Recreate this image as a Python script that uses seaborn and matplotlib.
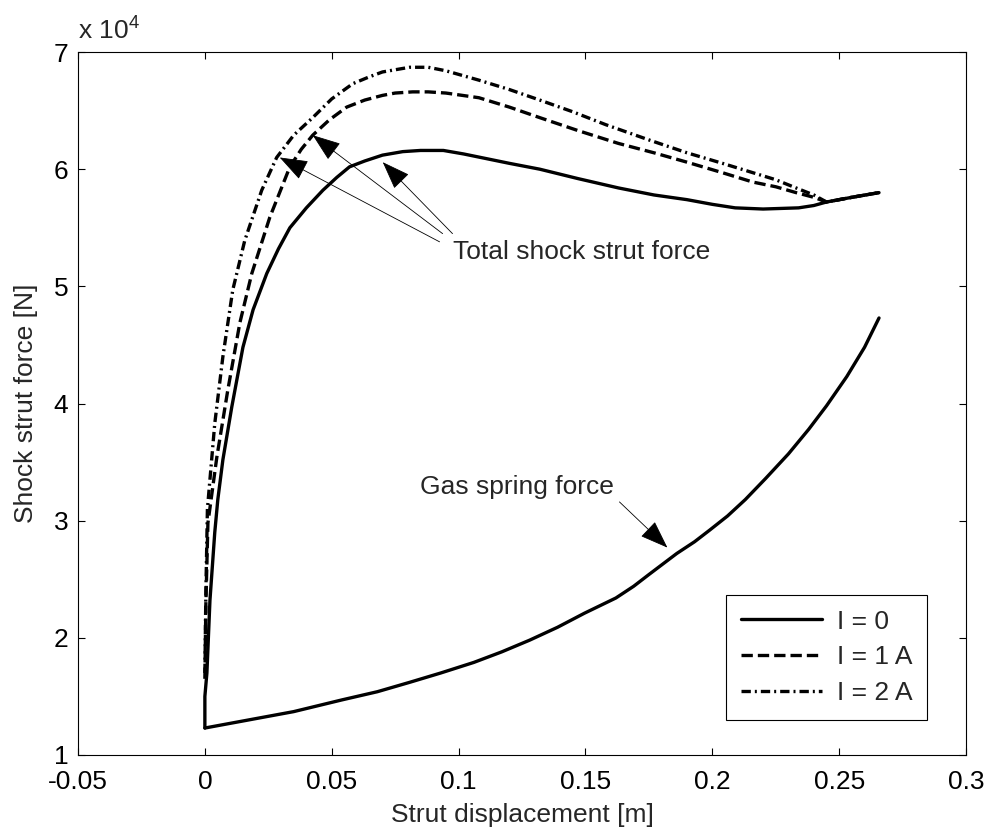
import numpy as np
import pandas as pd
import matplotlib
matplotlib.use("Agg")
import matplotlib.pyplot as plt
import seaborn as sns

# ---------------- data (force in N, displacement in m) ----------------
gas_x = [0, 0.01, 0.02, 0.035, 0.054, 0.068, 0.0807, 0.093, 0.106, 0.117, 0.128, 0.139,
         0.1496, 0.162, 0.169, 0.175, 0.186, 0.193, 0.199, 0.206, 0.213, 0.221, 0.23,
         0.238, 0.245, 0.253, 0.26, 0.2657]
gas_y = [1.23e4, 1.27e4, 1.31e4, 1.37e4, 1.47e4, 1.54e4, 1.62e4, 1.70e4, 1.79e4, 1.88e4,
         1.98e4, 2.09e4, 2.21e4, 2.34e4, 2.44e4, 2.54e4, 2.72e4, 2.82e4, 2.92e4, 3.04e4,
         3.18e4, 3.36e4, 3.57e4, 3.78e4, 3.98e4, 4.23e4, 4.48e4, 4.73e4]

i0_x = [0, 0, 0.0008, 0.002, 0.0039, 0.0051, 0.0071, 0.0106, 0.015, 0.019, 0.0244, 0.029,
        0.0335, 0.04, 0.0465, 0.052, 0.057, 0.063, 0.07, 0.078, 0.085, 0.094, 0.102, 0.111,
        0.12, 0.132, 0.147, 0.163, 0.177, 0.19, 0.2, 0.209, 0.22, 0.234, 0.24, 0.245, 0.255,
        0.2657]
i0_y = [1.23e4, 1.5e4, 1.7e4, 2.32e4, 2.9e4, 3.18e4, 3.52e4, 3.97e4, 4.48e4, 4.8e4, 5.11e4,
        5.32e4, 5.5e4, 5.67e4, 5.82e4, 5.93e4, 6.02e4, 6.07e4, 6.12e4, 6.15e4, 6.16e4, 6.16e4,
        6.13e4, 6.09e4, 6.05e4, 6.0e4, 5.92e4, 5.84e4, 5.78e4, 5.74e4, 5.7e4, 5.67e4, 5.66e4,
        5.67e4, 5.69e4, 5.72e4, 5.76e4, 5.8e4]

i1_x = [0, 0.0004, 0.0012, 0.0047, 0.009, 0.0138, 0.0185, 0.0256, 0.0335, 0.038, 0.0425,
        0.049, 0.0559, 0.063, 0.07, 0.075, 0.0819, 0.088, 0.095, 0.108, 0.12, 0.132, 0.147,
        0.163, 0.177, 0.19, 0.204, 0.216, 0.225, 0.233, 0.24, 0.245, 0.255, 0.2657]
i1_y = [1.65e4, 2.3e4, 2.98e4, 3.54e4, 4.11e4, 4.69e4, 5.11e4, 5.59e4, 6.02e4, 6.17e4, 6.29e4,
        6.42e4, 6.53e4, 6.59e4, 6.63e4, 6.65e4, 6.66e4, 6.66e4, 6.65e4, 6.61e4, 6.53e4, 6.44e4,
        6.33e4, 6.22e4, 6.14e4, 6.06e4, 5.97e4, 5.89e4, 5.85e4, 5.8e4, 5.76e4, 5.72e4, 5.76e4,
        5.8e4]

i2_x = [0, 0.0004, 0.0010, 0.0039, 0.0071, 0.011, 0.0157, 0.0224, 0.0283, 0.035, 0.0425,
        0.05, 0.0583, 0.065, 0.07, 0.0807, 0.088, 0.095, 0.108, 0.12, 0.132, 0.145, 0.158,
        0.175, 0.19, 0.204, 0.216, 0.225, 0.233, 0.24, 0.245, 0.255, 0.2657]
i2_y = [1.7e4, 2.4e4, 3.1e4, 3.83e4, 4.4e4, 4.97e4, 5.39e4, 5.82e4, 6.1e4, 6.29e4, 6.44e4,
        6.6e4, 6.73e4, 6.79e4, 6.83e4, 6.87e4, 6.87e4, 6.84e4, 6.76e4, 6.68e4, 6.59e4, 6.49e4,
        6.38e4, 6.25e4, 6.14e4, 6.05e4, 5.97e4, 5.91e4, 5.84e4, 5.78e4, 5.72e4, 5.76e4, 5.8e4]

legend_labels = ["I = 0", "I = 1 A", "I = 2 A"]
x_ticks = [-0.05, 0, 0.05, 0.1, 0.15, 0.2, 0.25, 0.3]
x_tick_labels = ["-0.05", "0", "0.05", "0.1", "0.15", "0.2", "0.25", "0.3"]
y_ticks = [1e4, 2e4, 3e4, 4e4, 5e4, 6e4, 7e4]
y_tick_labels = ["1", "2", "3", "4", "5", "6", "7"]

# annotation anchors (data coords)
total_text = "Total shock strut force"
total_text_pos = (0.0976, 5.29e4)
total_tails = [(0.0925, 5.38e4), (0.0937, 5.45e4), (0.0976, 5.45e4)]
total_tips = [(0.0295, 6.10e4), (0.0425, 6.29e4), (0.0701, 6.06e4)]
gas_text = "Gas spring force"
gas_text_pos = (0.0846, 3.29e4)
gas_tail = (0.1634, 3.16e4)
gas_tip = (0.1823, 2.77e4)

# ---------------- style ----------------
sns.set_style("ticks")
plt.rcParams["font.family"] = ["Liberation Sans", "DejaVu Sans"]
plt.rcParams["mathtext.fontset"] = "custom"
plt.rcParams["mathtext.rm"] = "Liberation Sans"
plt.rcParams["mathtext.it"] = "Liberation Sans"

FS = 19

fig = plt.figure(figsize=(9.9, 8.3), dpi=100)
ax = fig.add_axes([0.0788, 0.0904, 0.8970, 0.8469])

LW = 2.4
gas_df = pd.DataFrame({"x": gas_x, "y": gas_y})
sns.lineplot(data=gas_df, x="x", y="y", sort=False, estimator=None,
             color="black", linewidth=LW, ax=ax, legend=False)

lines = []
for xs, ys, lab in [(i0_x, i0_y, legend_labels[0]),
                    (i1_x, i1_y, legend_labels[1]),
                    (i2_x, i2_y, legend_labels[2])]:
    df = pd.DataFrame({"x": xs, "y": ys})
    sns.lineplot(data=df, x="x", y="y", sort=False, estimator=None,
                 color="black", linewidth=LW, ax=ax, legend=False)
    lines.append(ax.lines[-1])

lines[1].set_linestyle((0, (3.4, 1.5)))
lines[2].set_linestyle((0, (2.8, 1.2, 0.6, 1.2)))

ax.set_xlim(-0.05, 0.3)
ax.set_ylim(1e4, 7e4)
ax.set_xticks(x_ticks)
ax.set_xticklabels(x_tick_labels)
ax.set_yticks(y_ticks)
ax.set_yticklabels(y_tick_labels)
ax.tick_params(direction="in", top=True, right=True, length=5, width=0.8,
               labelsize=FS, colors="black")
ax.tick_params(axis="x", pad=11)
ax.tick_params(axis="y", pad=7)
for s in ax.spines.values():
    s.set_linewidth(0.8)
    s.set_color("black")
    s.set_visible(True)

ax.set_xlabel("Strut displacement [m]", fontsize=FS, labelpad=6)
ax.set_ylabel("Shock strut force [N]", fontsize=FS, labelpad=11)

ax.text(0.0, 1.017, r"x 10$^{4}$", transform=ax.transAxes, ha="left",
        va="baseline", fontsize=FS)

leg = ax.legend(handles=lines, labels=legend_labels, loc="lower right",
                bbox_to_anchor=(0.956, 0.05), frameon=True, fancybox=False,
                edgecolor="black", framealpha=1, handlelength=3.1,
                handletextpad=0.55, labelspacing=0.45, borderpad=0.55,
                borderaxespad=0.0, fontsize=FS)
leg.get_frame().set_linewidth(0.8)

arrow_kw = dict(arrowstyle="-|>,head_length=0.9,head_width=0.33", color="black",
                lw=0.6, mutation_scale=20, shrinkA=0, shrinkB=0)
for tail, tip in zip(total_tails, total_tips):
    ax.annotate("", xy=tip, xytext=tail, arrowprops=arrow_kw)
ax.text(*total_text_pos, total_text, ha="left", va="center", fontsize=FS)

ax.annotate("", xy=gas_tip, xytext=gas_tail, arrowprops=arrow_kw)
ax.text(*gas_text_pos, gas_text, ha="left", va="center", fontsize=FS)

fig.savefig("out.png", dpi=100)
